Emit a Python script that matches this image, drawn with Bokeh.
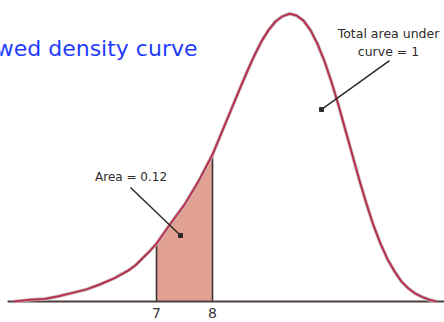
from bokeh.plotting import figure
from bokeh.models import Range1d
from bokeh.core.properties import value
from bokeh.embed import file_html
from bokeh.resources import INLINE

# Left-skewed density curve (x, density)
curve_x = [4.45, 4.75, 5.0, 5.25, 5.5, 5.75, 6.0, 6.25, 6.5, 6.625, 6.75, 6.875,
           7.0, 7.25, 7.5, 7.75, 8.0, 8.25, 8.5, 8.625, 8.75, 8.875, 9.0, 9.125,
           9.25, 9.375, 9.5, 9.625, 9.75, 9.875, 10.0, 10.125, 10.25, 10.375, 10.5,
           10.625, 10.75, 10.875, 11.0, 11.125, 11.25, 11.375, 11.5, 11.625, 11.75,
           11.875, 12.0]
curve_y = [0.0, 0.002, 0.003, 0.006, 0.010, 0.014, 0.020, 0.027, 0.036, 0.042, 0.050, 0.058,
           0.067, 0.090, 0.112, 0.139, 0.170, 0.209, 0.248, 0.267, 0.285, 0.301, 0.314, 0.324,
           0.330, 0.333, 0.331, 0.325, 0.314, 0.298, 0.278, 0.254, 0.227, 0.198, 0.169,
           0.140, 0.113, 0.088, 0.067, 0.049, 0.035, 0.023, 0.015, 0.009, 0.005,
           0.002, 0.0]

# Interval whose area is highlighted
interval = [7, 8]
interval_area = 0.12
tick_labels = ["7", "8"]
title_text = "Left-skewed density curve"
total_text = ["Total area under", "curve = 1"]

W, H = 444, 322
p = figure(width=W, height=H, output_backend="svg", toolbar_location=None,
           x_range=Range1d(4.214, 12.143), y_range=Range1d(-0.0243, 0.3483),
           min_border=0, outline_line_color=None)
p.axis.visible = False
p.grid.visible = False
p.background_fill_color = "white"
p.border_fill_color = "white"

# shaded region under the curve
sx = [x for x in curve_x if interval[0] <= x <= interval[1]]
sy = [y for x, y in zip(curve_x, curve_y) if interval[0] <= x <= interval[1]]
p.varea(x=sx, y1=[0] * len(sx), y2=sy, fill_color="#e0a193", fill_alpha=1)

# boundaries of the interval
p.segment(x0=interval, y0=[0, 0], x1=interval, y1=[sy[0], sy[-1]],
          line_color="#3f3434", line_width=1.6)

# baseline
p.segment(x0=[4.34], y0=[0], x1=[12.143], y1=[0], line_color="#4a3e3e", line_width=2.2)

# density curve with a soft grey edge
p.line(curve_x, curve_y, line_color="#cdbfc1", line_width=3.6, line_join="round")
p.line(curve_x, curve_y, line_color="#b6304f", line_width=2, line_join="round")

# tick labels
p.text(x=interval, y=[-0.0128, -0.0128], text=tick_labels, text_align="center",
       text_baseline="middle", text_font=value("DejaVu Sans"), text_font_size="14px",
       text_color="#3a3333")

# title
p.text(x=[7.732], y=[0.2927], text=[title_text], text_align="right", text_baseline="middle",
       text_font=value("DejaVu Sans"), text_font_size="22px", text_color="#1f3cff")

# area label and arrow
p.text(x=[6.545], y=[0.1435], text=[f"Area = {interval_area}"], text_align="center",
       text_baseline="middle", text_font=value("DejaVu Sans"), text_font_size="12px",
       text_color="#2f2a2a")
p.segment(x0=[6.536], y0=[0.1319], x1=[7.42], y1=[0.0770], line_color="#2e2a2a", line_width=1.5)
p.scatter(x=[7.429], y=[0.0764], marker="square", size=4, color="#2e2a2a")

# total area label and arrow
p.text(x=[11.143, 11.143], y=[0.310, 0.2893], text=total_text, text_align="center",
       text_baseline="middle", text_font=value("DejaVu Sans"), text_font_size="12.5px",
       text_color="#2f2a2a")
p.segment(x0=[11.161], y0=[0.2788], x1=[9.955], y1=[0.2227], line_color="#2e2a2a", line_width=1.5)
p.scatter(x=[9.946], y=[0.2221], marker="square", size=4, color="#2e2a2a")

open("out.html", "w").write(file_html(p, INLINE))
